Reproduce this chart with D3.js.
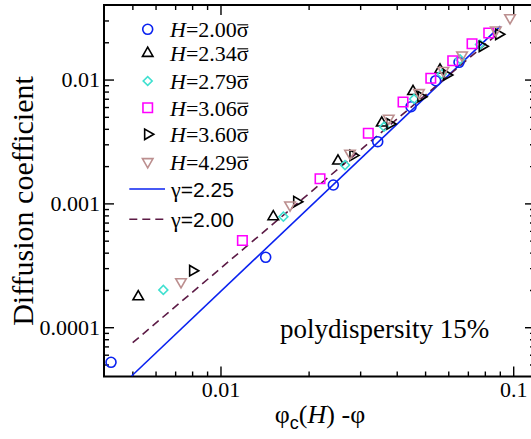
<!DOCTYPE html>
<html><head><meta charset="utf-8">
<script src="https://cdn.jsdelivr.net/npm/d3@7"></script>
<style>
html,body{margin:0;padding:0;background:#fff;overflow:hidden;}
svg{display:block;}
</style></head>
<body>
<svg id="chart" width="531" height="439"></svg>
<script>
// ---- data ----
const h200_x = [0.004227, 0.01427, 0.02429, 0.03445, 0.04477, 0.05435, 0.06530];
const h200_y = [5.21e-5, 3.67e-4, 1.408e-3, 3.15e-3, 6.04e-3, 9.79e-3, 0.01378];

const h234_x = [0.005237, 0.01515, 0.02520, 0.03556, 0.04547, 0.05623];
const h234_y = [1.764e-4, 7.81e-4, 2.20e-3, 4.46e-3, 8.01e-3, 0.01195];

const h279_x = [0.006379, 0.01640, 0.02663, 0.03620, 0.04583, 0.05699, 0.06582, 0.07701];
const h279_y = [2.00e-4, 7.81e-4, 2.04e-3, 4.16e-3, 6.97e-3, 0.01109, 0.01458, 0.01919];

const h306_x = [0.01188, 0.02188, 0.03199, 0.04204, 0.05230, 0.06214, 0.07233, 0.08249];
const h306_y = [5.02e-4, 1.583e-3, 3.68e-3, 6.59e-3, 0.01024, 0.01420, 0.01948, 0.02377];

const h360_x = [0.008036, 0.01822, 0.02836, 0.03795, 0.04842, 0.05928, 0.07841, 0.08923];
const h360_y = [2.86e-4, 1.032e-3, 2.44e-3, 4.38e-3, 7.27e-3, 0.01089, 0.01856, 0.02320];

const h429_x = [0.007330, 0.01728, 0.02770, 0.03756, 0.04766, 0.05771, 0.06687, 0.08721, 0.09752];
const h429_y = [2.33e-4, 9.70e-4, 2.54e-3, 4.87e-3, 7.83e-3, 0.01184, 0.01579, 0.02513, 0.03153];

// power-law guide lines (end points)
const fit225_x = [0.00497, 0.0904];
const fit225_y = [4.04e-5, 0.0270];
const fit200_x = [0.005013, 0.08668];
const fit200_y = [7.50e-5, 0.02242];

const seriesLabels = ["2.00", "2.34", "2.79", "3.06", "3.60", "4.29"];
const lineLabels = ["2.25", "2.00"];
const xTickLabels = ["0.01", "0.1"];
const yTickLabels = ["0.0001", "0.001", "0.01"];

// ---- chart ----
const svg = d3.select("#chart");
const L = 104, R = 535, T = 5, B = 376.5;
const x = d3.scaleLog().domain([0.004, 0.1187]).range([L, R]);
const y = d3.scaleLog().domain([4e-5, 0.04]).range([B, T]);

const serif = "'Liberation Serif','Times New Roman',serif";
const sans = "'Liberation Sans',Arial,sans-serif";

// ticks
function minorTicks(lo, hi) {
  const out = [];
  for (let e = -6; e <= 0; e++) {
    for (let m = 2; m <= 9; m++) {
      const v = m * Math.pow(10, e);
      if (v > lo && v < hi) out.push(v);
    }
  }
  return out;
}
const xMajor = xTickLabels.map(Number);
const yMajor = yTickLabels.map(Number);
const xMinor = minorTicks(0.004, 0.1187);
const yMinor = minorTicks(4e-5, 0.04);

function styleAxis(g) {
  g.select(".domain").remove();
  g.selectAll(".tick line").attr("stroke", "#000").attr("stroke-width", 1.4);
  g.selectAll(".tick text").attr("font-family", serif).attr("font-size", 22).attr("fill", "#000");
}

// bottom
svg.append("g").attr("transform", `translate(0,${B})`)
  .call(d3.axisBottom(x).tickValues(xMajor).tickSize(-10).tickPadding(0).tickFormat((d,i)=>xTickLabels[i]))
  .call(styleAxis)
  .call(g => g.selectAll(".tick text").attr("dy", null).attr("y", 20));
svg.append("g").attr("transform", `translate(0,${B})`)
  .call(d3.axisBottom(x).tickValues(xMinor).tickSize(-5).tickFormat(""))
  .call(styleAxis);
// top
svg.append("g").attr("transform", `translate(0,${T})`)
  .call(d3.axisTop(x).tickValues(xMajor).tickSize(-10).tickFormat(""))
  .call(styleAxis);
svg.append("g").attr("transform", `translate(0,${T})`)
  .call(d3.axisTop(x).tickValues(xMinor).tickSize(-5).tickFormat(""))
  .call(styleAxis);
// left
svg.append("g").attr("transform", `translate(${L},0)`)
  .call(d3.axisLeft(y).tickValues(yMajor).tickSize(-10).tickPadding(14).tickFormat((d,i)=>yTickLabels[i]))
  .call(styleAxis)
  .call(g => g.selectAll(".tick text").attr("x", -4));
svg.append("g").attr("transform", `translate(${L},0)`)
  .call(d3.axisLeft(y).tickValues(yMinor).tickSize(-5).tickFormat(""))
  .call(styleAxis);
// right (frame lies just outside the picture)
svg.append("g").attr("transform", `translate(${R},0)`)
  .call(d3.axisRight(y).tickValues(yMajor).tickSize(-10).tickFormat(""))
  .call(styleAxis);
svg.append("g").attr("transform", `translate(${R},0)`)
  .call(d3.axisRight(y).tickValues(yMinor).tickSize(-5).tickFormat(""))
  .call(styleAxis);

// frame
svg.append("rect").attr("x", L).attr("y", T).attr("width", R - L).attr("height", B - T)
  .attr("fill", "none").attr("stroke", "#000").attr("stroke-width", 2);

// guide lines
const line = d3.line().x(d => x(d[0])).y(d => y(d[1]));
const blue = "#0a22f0", maroon = "#5c1a45";
svg.append("path").datum(d3.zip(fit225_x, fit225_y)).attr("d", line)
  .attr("fill", "none").attr("stroke", blue).attr("stroke-width", 1.6);
svg.append("path").datum(d3.zip(fit200_x, fit200_y)).attr("d", line)
  .attr("fill", "none").attr("stroke", maroon).attr("stroke-width", 1.6).attr("stroke-dasharray", "8,5");

// series
const series = [
  {xs: h200_x, ys: h200_y, color: blue, type: d3.symbolCircle, size: 78, rot: 0},
  {xs: h234_x, ys: h234_y, color: "#000", type: d3.symbolTriangle, size: 48, rot: 0},
  {xs: h279_x, ys: h279_y, color: "#40e0d0", type: d3.symbolSquare, size: 40, rot: 45},
  {xs: h306_x, ys: h306_y, color: "#ff00ff", type: d3.symbolSquare, size: 90, rot: 0},
  {xs: h360_x, ys: h360_y, color: "#000", type: d3.symbolTriangle, size: 48, rot: 90},
  {xs: h429_x, ys: h429_y, color: "#bc8f8f", type: d3.symbolTriangle, size: 48, rot: 180},
];
series.forEach(s => {
  svg.append("g").selectAll("path").data(d3.zip(s.xs, s.ys)).join("path")
    .attr("d", d3.symbol().type(s.type).size(s.size))
    .attr("transform", d => `translate(${x(d[0])},${y(d[1])}) rotate(${s.rot})`)
    .attr("fill", "none").attr("stroke", s.color).attr("stroke-width", 1.6);
});

// legend
const legY = [29.3, 53.3, 81, 107.7, 134.3, 161.7];
const leg = svg.append("g");
series.forEach((s, i) => {
  leg.append("path").attr("d", d3.symbol().type(s.type).size(s.size))
    .attr("transform", `translate(147.7,${legY[i]}) rotate(${s.rot})`)
    .attr("fill", "none").attr("stroke", s.color).attr("stroke-width", 1.6);
  const t = leg.append("text").attr("x", 170).attr("y", legY[i]).attr("dy", "0.36em")
    .attr("font-family", serif).attr("font-size", 22).attr("fill", "#000");
  t.append("tspan").attr("font-style", "italic").text("H");
  t.append("tspan").text("=" + seriesLabels[i]);
  t.append("tspan").text("σ");
  // overline bar on sigma
  const node = t.node();
  const n = node.getNumberOfChars();
  const x0 = node.getStartPositionOfChar(n - 1).x;
  const x1 = node.getEndPositionOfChar(n - 1).x;
  leg.append("line").attr("x1", x0 + 0.5).attr("x2", x1 - 0.5)
    .attr("y1", legY[i] - 4.5).attr("y2", legY[i] - 4.5)
    .attr("stroke", "#000").attr("stroke-width", 1.1);
});
const lineLegY = [189, 219.3];
const lineStyles = [{c: blue, dash: null}, {c: maroon, dash: "8,5"}];
lineLabels.forEach((lab, i) => {
  leg.append("line").attr("x1", 129.3).attr("x2", 165).attr("y1", lineLegY[i]).attr("y2", lineLegY[i])
    .attr("stroke", lineStyles[i].c).attr("stroke-width", 1.6)
    .attr("stroke-dasharray", lineStyles[i].dash);
  const t = leg.append("text").attr("x", 171).attr("y", lineLegY[i]).attr("dy", "0.36em")
    .attr("font-size", 22).attr("fill", "#000");
  t.append("tspan").attr("font-family", serif).text("γ");
  t.append("tspan").attr("font-family", sans).attr("font-size", 21).text("=" + lab);
});

// annotation
svg.append("text").attr("x", 280).attr("y", 338)
  .attr("font-family", serif).attr("font-size", 27).attr("fill", "#000")
  .text("polydispersity 15%");

// axis titles
const xt = svg.append("text").attr("x", 320).attr("y", 423).attr("text-anchor", "middle")
  .attr("font-family", serif).attr("font-size", 26).attr("fill", "#000");
xt.append("tspan").text("φ");
xt.append("tspan").attr("font-family", sans).attr("font-size", 18).attr("dy", 6).text("c");
xt.append("tspan").attr("dy", -6).text("(");
xt.append("tspan").attr("font-style", "italic").text("H");
xt.append("tspan").text(") -φ");

svg.append("text").attr("transform", "translate(33,201) rotate(-90)").attr("text-anchor", "middle")
  .attr("font-family", serif).attr("font-size", 30).attr("fill", "#000")
  .text("Diffusion coefficient");
</script>
</body></html>
